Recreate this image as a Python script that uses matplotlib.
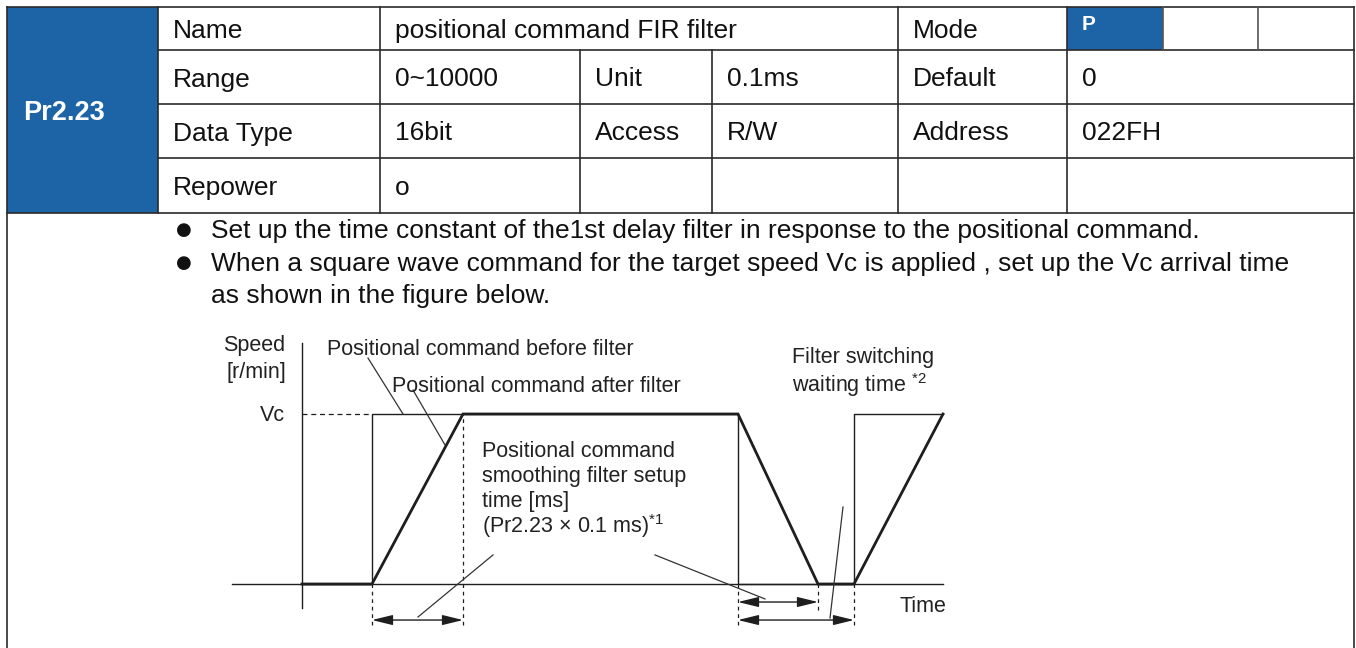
import matplotlib.pyplot as plt

plt.rcParams['font.family'] = ['Liberation Sans', 'DejaVu Sans']
plt.rcParams['mathtext.default'] = 'regular'

# ---- table content ----
param_id = 'Pr2.23'
mode_value = 'P'
row_cells = [
    ['Name', 'positional command FIR filter', 'Mode'],
    ['Range', '0~10000', 'Unit', '0.1ms', 'Default', '0'],
    ['Data Type', '16bit', 'Access', 'R/W', 'Address', '022FH'],
    ['Repower', 'o'],
]
bullet_lines = [
    'Set up the time constant of the1st delay filter in response to the positional command.',
    'When a square wave command for the target speed Vc is applied , set up the Vc arrival time',
]
cont_line = 'as shown in the figure below.'

# ---- diagram content (time in arbitrary units, speed relative to Vc) ----
before_t = [0.0, 7.0, 7.0, 43.6, 43.6, 55.2, 55.2, 64.1]
before_v = [0, 0, 1, 1, 0, 0, 1, 1]
after_t = [0.0, 7.0, 16.1, 43.6, 51.6, 55.2, 64.1]
after_v = [0, 0, 1, 1, 0, 0, 1]
marker_times = [7.0, 16.1, 43.6, 51.6, 55.2]

BLUE = '#1c64a5'
LINE = '#2a2a2a'
TXT = '#111111'

fig = plt.figure(figsize=(13.56, 6.48), dpi=100)
ax = fig.add_axes([0, 0, 1, 1])
ax.set_xlim(0, 1356)
ax.set_ylim(648, 0)
ax.axis('off')

# layout (pixels)
x_left, x_id, x_right = 7, 158, 1354
cols = [158, 380, 580, 712, 898, 1067, 1163, 1258]
rows = [7, 50, 104, 158, 213]

ax.add_patch(plt.Rectangle((x_left, rows[0]), x_id - x_left, rows[4] - rows[0],
                           facecolor=BLUE, edgecolor='none', zorder=1))
ax.add_patch(plt.Rectangle((cols[5], rows[0]), cols[6] - cols[5], rows[1] - rows[0],
                           facecolor=BLUE, edgecolor='none', zorder=1))

lw = 1.2
ax.plot([x_left, x_right], [rows[0], rows[0]], color=LINE, lw=lw)
for y in rows[1:4]:
    ax.plot([x_id, x_right], [y, y], color=LINE, lw=lw)
ax.plot([x_left, x_right], [rows[4], rows[4]], color=LINE, lw=lw)
ax.plot([x_left, x_left], [rows[0], 648], color=LINE, lw=lw)
ax.plot([x_right, x_right], [rows[0], 648], color=LINE, lw=lw)
for x in [cols[0], cols[1], cols[4], cols[5]]:
    ax.plot([x, x], [rows[0], rows[4]], color=LINE, lw=lw)
for x in [cols[2], cols[3]]:
    ax.plot([x, x], [rows[1], rows[4]], color=LINE, lw=lw)
for x in [cols[6], cols[7]]:
    ax.plot([x, x], [rows[0], rows[1]], color='#555555', lw=lw)

# cell text
fs = 19
row_starts = [
    [cols[0], cols[1], cols[4]],
    [cols[0], cols[1], cols[2], cols[3], cols[4], cols[5]],
    [cols[0], cols[1], cols[2], cols[3], cols[4], cols[5]],
    [cols[0], cols[1]],
]
for i, cells in enumerate(row_cells):
    yb = (rows[i] + rows[i + 1]) / 2 + 9.5
    for x, s in zip(row_starts[i], cells):
        ax.text(x + 15, yb, s, fontsize=fs, color=TXT, va='baseline', ha='left')

ax.text(23, 120, param_id, fontsize=19.5, fontweight='bold', color='white',
        va='baseline', ha='left')
ax.text(cols[5] + 15, 30, mode_value, fontsize=15, fontweight='bold',
        color='white', va='baseline', ha='left')

# bullet text
for yb, s in zip([238, 271], bullet_lines):
    ax.text(184, yb - 8, '\u25cf', fontsize=13, color=TXT, family='DejaVu Sans',
            ha='center', va='center')
    ax.text(211, yb, s, fontsize=fs, color=TXT, va='baseline', ha='left')
ax.text(211, 303, cont_line, fontsize=fs, color=TXT, va='baseline', ha='left')

# ---- diagram axes: t = (px - 302) / 10, v = (584 - py) / 170 ----
W, H = 1356, 648
px0, px1, py0, py1 = 220, 960, 640, 330
dg = fig.add_axes([px0 / W, (H - py0) / H, (px1 - px0) / W, (py0 - py1) / H])
dg.set_xlim((px0 - 302) / 10, (px1 - 302) / 10)
dg.set_ylim((584 - py0) / 170, (584 - py1) / 170)
dg.axis('off')
dg.patch.set_alpha(0)

DK = '#1e1e1e'
thin = 1.0
dg.plot([-7.0, 64.1], [0, 0], color=DK, lw=thin)
dg.plot([0, 0], [-0.141, 1.418], color=DK, lw=thin)
dg.plot(before_t, before_v, color=DK, lw=thin)
dg.plot(after_t, after_v, color=DK, lw=2.0, solid_joinstyle='miter')
dg.plot([0, before_t[1]], [1, 1], color=DK, lw=0.9, ls=(0, (4, 3)))

dash_bottom = [-0.241, -0.241, -0.241, -0.153, -0.241]
dash_top = [0, 1, 0, 0, 0]
for t, b, tp in zip(marker_times, dash_bottom, dash_top):
    dg.plot([t, t], [b, tp], color=DK, lw=0.9, ls=(0, (3, 3)))

arrow = dict(arrowstyle='<|-|>,head_length=0.9,head_width=0.22', lw=1.0,
             color=DK, shrinkA=0, shrinkB=0, mutation_scale=14)
dg.annotate('', xy=(16.1, -0.212), xytext=(7.0, -0.212), arrowprops=arrow)
dg.annotate('', xy=(51.6, -0.106), xytext=(43.6, -0.106), arrowprops=arrow)
dg.annotate('', xy=(55.2, -0.212), xytext=(43.6, -0.212), arrowprops=arrow)

# leader lines
leaders = [
    ([6.6, 10.1], [1.329, 1.0]),
    ([11.1, 14.3], [1.141, 0.818]),
    ([19.1, 11.6], [0.171, -0.194]),
    ([35.3, 46.3], [0.171, -0.088]),
    ([54.1, 52.8], [0.453, -0.2]),
]
for lt, lv in leaders:
    dg.plot(lt, lv, color='#333333', lw=0.9)

dfs = 15.5
DT = '#222222'
dg.text(-1.7, 1.371, 'Speed', fontsize=dfs, color=DT, ha='right', va='baseline')
dg.text(-1.6, 1.212, '[r/min]', fontsize=dfs, color=DT, ha='right', va='baseline')
dg.text(-1.7, 0.959, 'Vc', fontsize=dfs, color=DT, ha='right', va='baseline')
dg.text(2.5, 1.347, 'Positional command before filter', fontsize=dfs, color=DT,
        va='baseline')
dg.text(9.0, 1.129, 'Positional command after filter', fontsize=dfs, color=DT,
        va='baseline')
block = ['Positional command', 'smoothing filter setup', 'time [ms]',
         '(Pr2.23 \u00d7 0.1 ms)$^{*1}$']
for s, v in zip(block, [0.747, 0.6, 0.453, 0.3]):
    dg.text(18.0, v, s, fontsize=dfs, color=DT, va='baseline')
dg.text(49.0, 1.3, 'Filter switching', fontsize=dfs, color=DT, va='baseline')
dg.text(49.0, 1.129, 'waiting time $^{*2}$', fontsize=dfs, color=DT, va='baseline')
dg.text(59.7, -0.165, 'Time', fontsize=dfs, color=DT, va='baseline')

fig.savefig('out.png', dpi=100)
